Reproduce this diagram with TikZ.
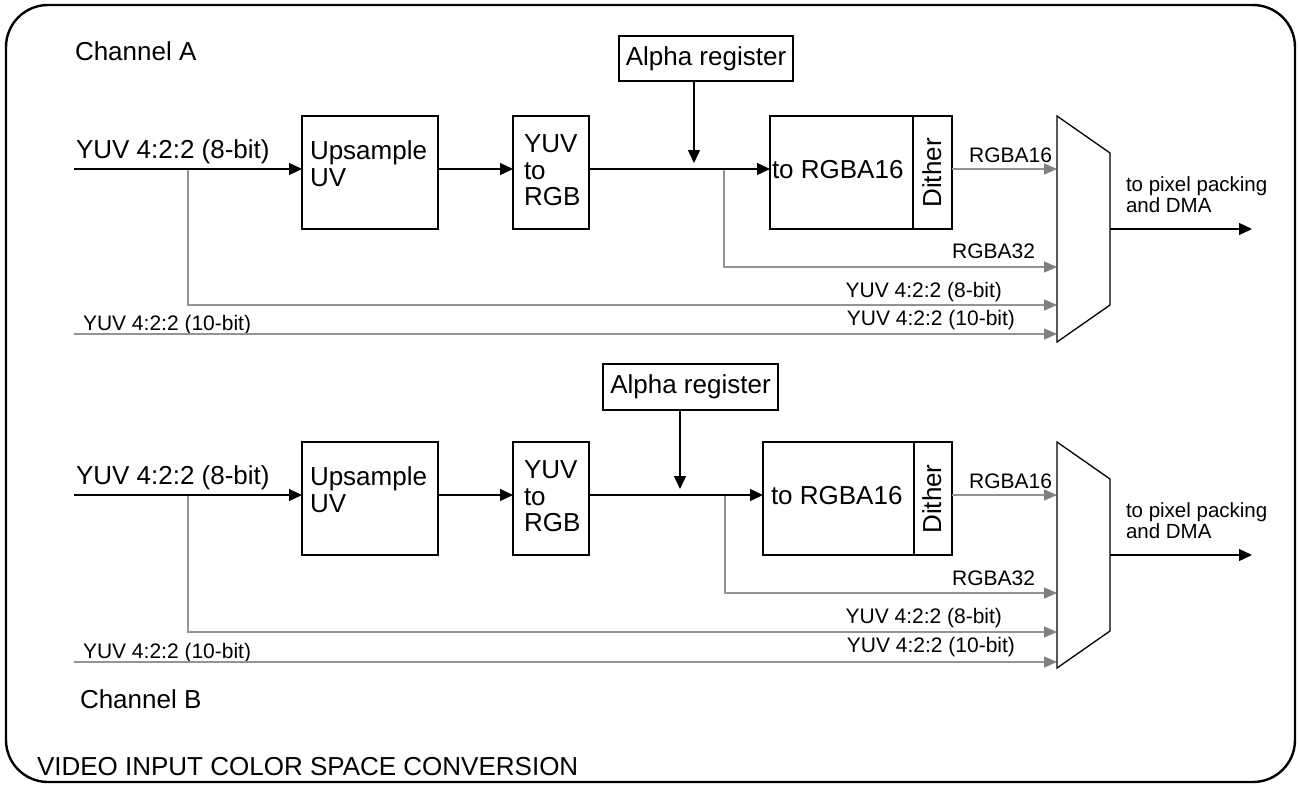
\documentclass[tikz,border=0pt]{standalone}
\usepackage{fontspec}
\setmainfont{Liberation Sans}
\usetikzlibrary{arrows.meta}
\definecolor{wire}{gray}{0.58}
\definecolor{wiretip}{gray}{0.5}

\begin{document}
\begin{tikzpicture}[x=1pt,y=-1pt,
  big/.style={font=\fontsize{26}{26.5}\selectfont},
  small/.style={font=\fontsize{21}{21}\selectfont},
  note/.style={font=\fontsize{20.5}{21}\selectfont},
  txt/.style={inner sep=0pt, outer sep=0pt},
  box/.style={draw, line width=1.3pt, inner sep=0pt, outer sep=0pt, anchor=north west},
  sig/.style={line width=1.3pt, -{Triangle[length=13pt,width=12pt]}},
  tap/.style={draw=wire, line width=1.3pt, -{Triangle[length=13pt,width=11pt,color=wiretip]}},
  mux/.style={line width=1.3pt},
]
\useasboundingbox (0,0) rectangle (1299,785);

% outer frame
\draw[line width=2.4pt, rounded corners=42pt] (6,5) rectangle (1295,782);

% ---------------- Channel A ----------------
\node[big, txt, anchor=base west] (chA) at (75,60) {Channel A};
\node[big, txt, anchor=base west] (inAt) at (76,158) {YUV 4:2:2 (8-bit)};
\node[small, txt, anchor=base west] (in10At) at (83,330) {YUV 4:2:2 (10-bit)};

\node[box, minimum width=136pt, minimum height=113pt] (upsA) at (302,116) {};
\node[big, txt, anchor=north west, align=left] (upsAt) at (310,141) {Upsample\\UV};
\node[box, minimum width=76pt, minimum height=113pt] (yrA) at (513,116) {};
\node[big, txt, anchor=north west, align=left] (yrAt) at (524,135) {YUV\\to\\RGB};
\node[box, minimum width=143pt, minimum height=113pt] (convA) at (770,116) {};
\node[big, txt, anchor=base west] (convAt) at (772,178) {to RGBA16};
\node[box, minimum width=39pt, minimum height=113pt] (dthA) at (913,116) {};
\node[big, txt, rotate=90, anchor=base] (dthAt) at (941,173) {Dither};
\node[box, big, minimum width=174pt, minimum height=45pt] (alphaA) at (619,36) {Alpha register};

\coordinate (mxA1) at (1057,116);
\coordinate (mxA2) at (1110,153);
\coordinate (mxA3) at (1110,305);
\coordinate (mxA4) at (1057,342);

\coordinate (inA) at (74,169);
\coordinate (alA) at (694,163);
\coordinate (brA) at (188,169);
\coordinate (k8A) at (188,305);
\coordinate (in10A) at (74,334);
\coordinate (brA2) at (724,169);
\coordinate (k32A) at (724,267);
\coordinate (outA) at (1252,229);

\draw[tap] (brA) -- (k8A) -- (k8A -| mxA1);
\draw[tap] (in10A) -- (in10A -| mxA1);
\draw[tap] (brA2) -- (k32A) -- (k32A -| mxA1);
\draw[tap] (dthA.east |- inA) -- (inA -| mxA1);

\draw[sig] (inA) -- (inA -| upsA.west);
\draw[sig] (inA -| upsA.east) -- (inA -| yrA.west);
\draw[sig] (inA -| yrA.east) -- (inA -| convA.west);
\draw[sig] (alA |- alphaA.south) -- (alA);
\draw[sig] (outA -| mxA2) -- (outA);
\draw[mux] (mxA1) -- (mxA2) -- (mxA3) -- (mxA4) -- cycle;

\node[small, txt, anchor=base east] (l16A) at (1052,162) {RGBA16};
\node[small, txt, anchor=base east] (l32A) at (1035,258) {RGBA32};
\node[small, txt, anchor=base east] (l8A) at (1002,297) {YUV 4:2:2 (8-bit)};
\node[small, txt, anchor=base east] (l10A) at (1015,325) {YUV 4:2:2 (10-bit)};
\node[note, txt, anchor=north west, align=left] (outAt) at (1126,177) {to pixel packing\\and DMA};

% ---------------- Channel B ----------------
\node[big, txt, anchor=base west] (inBt) at (76,484) {YUV 4:2:2 (8-bit)};
\node[small, txt, anchor=base west] (in10Bt) at (83,658) {YUV 4:2:2 (10-bit)};
\node[big, txt, anchor=base west] (chB) at (80,708) {Channel B};

\node[box, minimum width=136pt, minimum height=113pt] (upsB) at (302,442) {};
\node[big, txt, anchor=north west, align=left] (upsBt) at (310,467) {Upsample\\UV};
\node[box, minimum width=76pt, minimum height=113pt] (yrB) at (513,442) {};
\node[big, txt, anchor=north west, align=left] (yrBt) at (524,461) {YUV\\to\\RGB};
\node[box, minimum width=151pt, minimum height=113pt] (convB) at (763,442) {};
\node[big, txt, anchor=base west] (convBt) at (771,504) {to RGBA16};
\node[box, minimum width=38pt, minimum height=113pt] (dthB) at (914,442) {};
\node[big, txt, rotate=90, anchor=base] (dthBt) at (941,499) {Dither};
\node[box, big, minimum width=175pt, minimum height=46pt] (alphaB) at (603,364) {Alpha register};

\coordinate (mxB1) at (1057,442);
\coordinate (mxB2) at (1110,479);
\coordinate (mxB3) at (1110,631);
\coordinate (mxB4) at (1057,668);

\coordinate (inB) at (74,495);
\coordinate (alB) at (680,489);
\coordinate (brB) at (188,495);
\coordinate (k8B) at (188,632);
\coordinate (in10B) at (74,662);
\coordinate (brB2) at (725,495);
\coordinate (k32B) at (725,593);
\coordinate (outB) at (1252,555);

\draw[tap] (brB) -- (k8B) -- (k8B -| mxB1);
\draw[tap] (in10B) -- (in10B -| mxB1);
\draw[tap] (brB2) -- (k32B) -- (k32B -| mxB1);
\draw[tap] (dthB.east |- inB) -- (inB -| mxB1);

\draw[sig] (inB) -- (inB -| upsB.west);
\draw[sig] (inB -| upsB.east) -- (inB -| yrB.west);
\draw[sig] (inB -| yrB.east) -- (inB -| convB.west);
\draw[sig] (alB |- alphaB.south) -- (alB);
\draw[sig] (outB -| mxB2) -- (outB);
\draw[mux] (mxB1) -- (mxB2) -- (mxB3) -- (mxB4) -- cycle;

\node[small, txt, anchor=base east] (l16B) at (1052,488) {RGBA16};
\node[small, txt, anchor=base east] (l32B) at (1035,585) {RGBA32};
\node[small, txt, anchor=base east] (l8B) at (1002,623) {YUV 4:2:2 (8-bit)};
\node[small, txt, anchor=base east] (l10B) at (1015,652) {YUV 4:2:2 (10-bit)};
\node[note, txt, anchor=north west, align=left] (outBt) at (1126,503) {to pixel packing\\and DMA};

% caption
\node[big, txt, anchor=base west] (cap) at (37,775) {VIDEO INPUT COLOR SPACE CONVERSION};
\end{tikzpicture}
\end{document}
